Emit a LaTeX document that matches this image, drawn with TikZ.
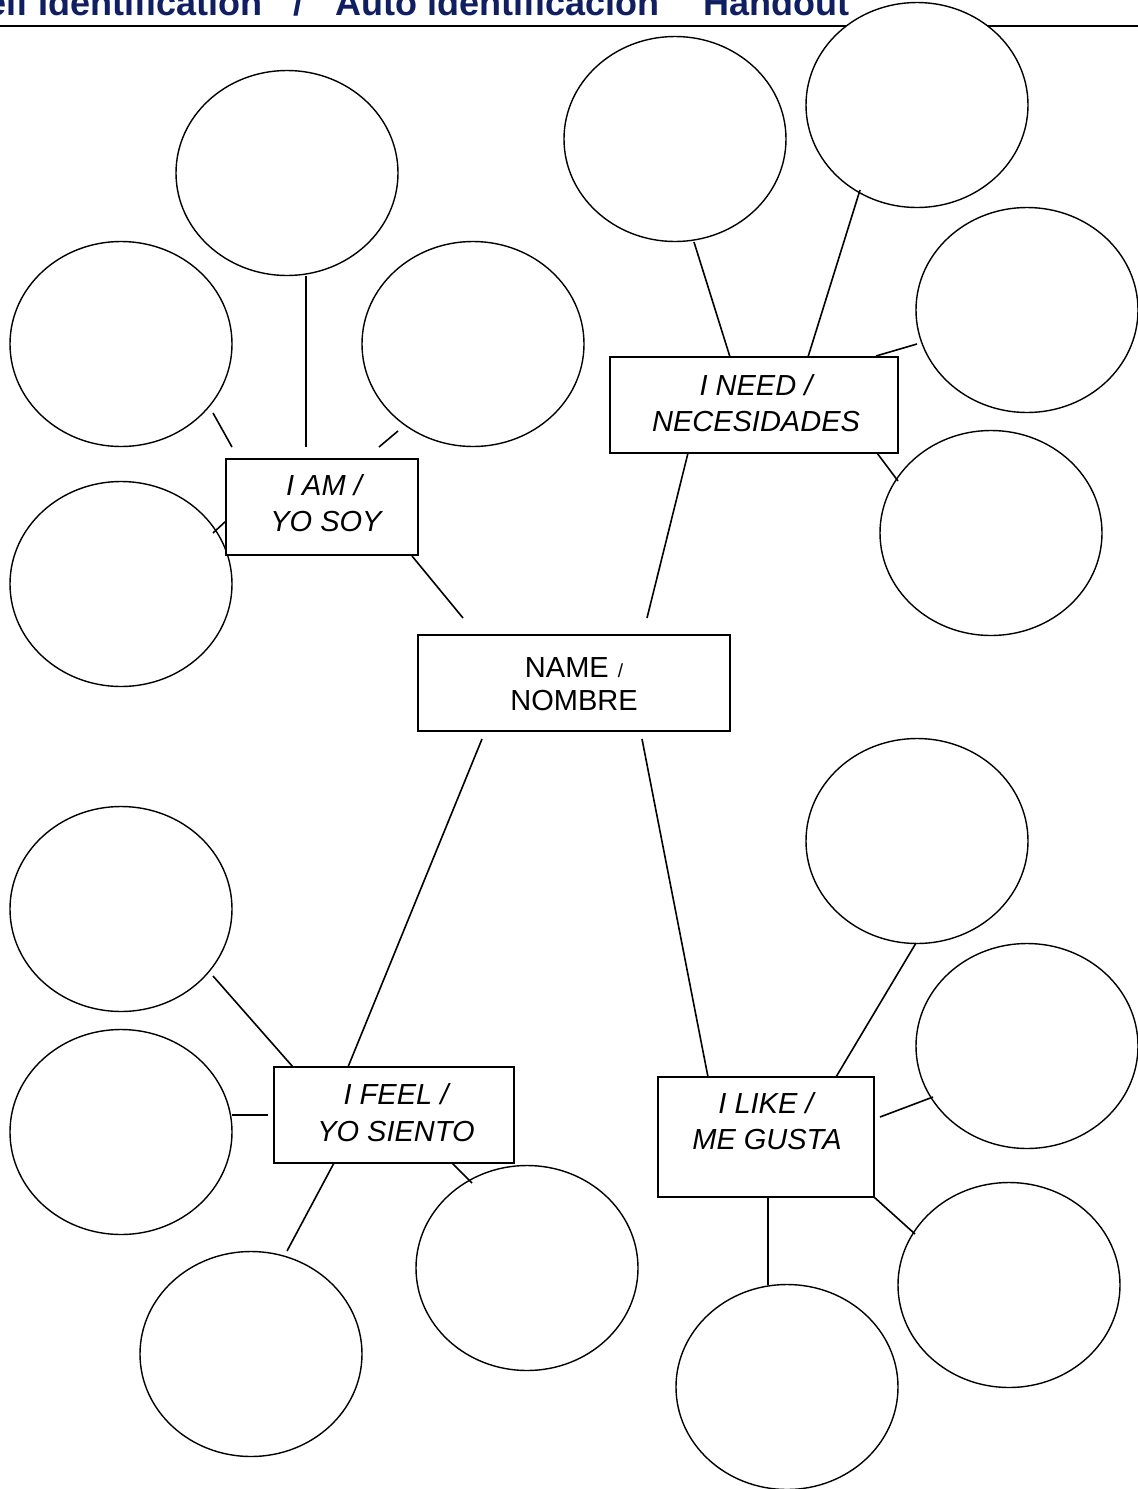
\documentclass[tikz,border=0pt]{standalone}
\usepackage{fontspec}
\setmainfont{Liberation Sans}
\usetikzlibrary{shapes.geometric}
\definecolor{titleblue}{RGB}{16,30,98}
\begin{document}
\begin{tikzpicture}[x=1pt,y=-1pt,
  bubble/.style={draw, ellipse, fill=white, line width=1.4pt, minimum width=222pt, minimum height=205pt, inner sep=0pt},
  labelbox/.style={draw, rectangle, fill=white, line width=2pt, inner sep=0pt},
  conn/.style={line width=1.6pt},
  lbl/.style={anchor=base, font=\fontsize{29}{36}\selectfont\itshape, inner sep=0pt},
  lblup/.style={anchor=base, font=\fontsize{29}{36}\selectfont, inner sep=0pt},
  titletext/.style={font=\fontsize{36}{40}\selectfont\bfseries, text=titleblue, inner sep=0pt}]
\useasboundingbox (0,0) rectangle (1138,1489);
\clip (0,0) rectangle (1138,1489);

% title
\node[titletext, anchor=base east] (t1) at (263,15) {Self Identification};
\node[titletext, anchor=base west] (t2) at (293,15) {/};
\node[titletext, anchor=base west] (t3) at (335,15) {Auto identificación};
\node[titletext, anchor=base west] (t4) at (703,15) {Handout};
\coordinate (tlA) at (0,25.5);
\coordinate (tlB) at (1138,25.5);
\draw[line width=2pt] (tlA) -- (tlB);

% bubbles
\node[bubble] (c1) at (287,173) {};
\node[bubble] (c2) at (121,344) {};
\node[bubble] (c3) at (473,344) {};
\node[bubble] (c4) at (121,584) {};
\node[bubble] (c5) at (675,139) {};
\node[bubble] (c6) at (917,105) {};
\node[bubble] (c7) at (1027,310) {};
\node[bubble] (c8) at (991,533) {};
\node[bubble] (c9) at (917,841) {};
\node[bubble] (c10) at (1027,1046) {};
\node[bubble] (c11) at (1009,1285) {};
\node[bubble] (c12) at (787,1387) {};
\node[bubble] (c13) at (121,909) {};
\node[bubble] (c14) at (121,1132) {};
\node[bubble] (c15) at (527,1268) {};
\node[bubble] (c16) at (251,1354) {};

% boxes
\node[labelbox, minimum width=192pt, minimum height=96pt] (iam) at (322,507) {};
\node[labelbox, minimum width=288pt, minimum height=96pt] (ineed) at (754,405) {};
\node[labelbox, minimum width=312pt, minimum height=96pt] (name) at (574,683) {};
\node[labelbox, minimum width=240pt, minimum height=96pt] (ifeel) at (394,1115) {};
\node[labelbox, minimum width=216pt, minimum height=120pt] (ilike) at (766,1137) {};

% labels
\node[lbl] (iamA) at (324,495) {I AM /};
\node[lbl] (iamB) at (326,531) {YO SOY};
\node[lbl] (needA) at (756,395) {I NEED /};
\node[lbl] (needB) at (756,431) {NECESIDADES};
\node[lblup] (nameA) at (574,677) {NAME\hspace{9pt}{\fontsize{19}{19}\selectfont /}};
\node[lblup] (nameB) at (574,710) {NOMBRE};
\node[lbl] (feelA) at (396,1104) {I FEEL /};
\node[lbl] (feelB) at (396,1141) {YO SIENTO};
\node[lbl] (likeA) at (766,1113) {I LIKE /};
\node[lbl] (likeB) at (767,1149) {ME GUSTA};

% connector end points
\coordinate (a1) at (306,276);  \coordinate (a1b) at (306,447);
\coordinate (a2) at (213,413);  \coordinate (a2b) at (232,447);
\coordinate (a3) at (398,431);  \coordinate (a3b) at (379,447);
\coordinate (a4) at (213,533);  \coordinate (a4b) at (226,521);
\coordinate (a5) at (412,556);  \coordinate (a5b) at (463,618);

\coordinate (n1) at (694,242);  \coordinate (n1b) at (730,357);
\coordinate (n2) at (860,190);  \coordinate (n2b) at (808,357);
\coordinate (n3) at (917,344);  \coordinate (n3b) at (876,356);
\coordinate (n4) at (877,453);  \coordinate (n4b) at (898,481);
\coordinate (n5) at (688,453);  \coordinate (n5b) at (647,618);

\coordinate (m1) at (482,739);  \coordinate (m1b) at (348,1067);
\coordinate (m2) at (642,739);  \coordinate (m2b) at (708,1077);

\coordinate (f1) at (213,976);  \coordinate (f1b) at (293,1067);
\coordinate (f2) at (232,1115); \coordinate (f2b) at (268,1115);
\coordinate (f3) at (334,1163); \coordinate (f3b) at (287,1251);
\coordinate (f4) at (452,1163); \coordinate (f4b) at (472,1183);

\coordinate (l1) at (916,943);  \coordinate (l1b) at (836,1077);
\coordinate (l2) at (880,1117); \coordinate (l2b) at (933,1097);
\coordinate (l3) at (874,1197); \coordinate (l3b) at (915,1234);
\coordinate (l4) at (768,1197); \coordinate (l4b) at (768,1285);

\foreach \p/\q in {a1/a1b,a2/a2b,a3/a3b,a4/a4b,a5/a5b,n1/n1b,n2/n2b,n3/n3b,n4/n4b,n5/n5b,m1/m1b,m2/m2b,f1/f1b,f2/f2b,f3/f3b,f4/f4b,l1/l1b,l2/l2b,l3/l3b,l4/l4b}
  \draw[conn] (\p) -- (\q);
\end{tikzpicture}
\end{document}
